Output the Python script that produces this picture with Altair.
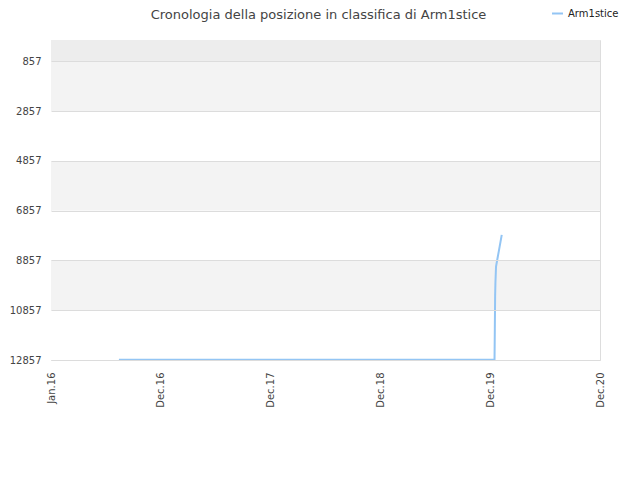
import altair as alt
import pandas as pd

# --- data ---
dates = ["2016-07-14", "2019-12-16", "2019-12-17", "2019-12-18", "2019-12-19",
         "2019-12-21", "2019-12-24", "2019-12-27", "2019-12-30", "2020-01-02",
         "2020-01-05", "2020-01-09"]
ranks = [12850, 12850, 11600, 10300, 9750, 9100, 8900, 8700, 8500, 8300, 8100, 7830]
series_name = "Arm1stice"

y_ticks = [857, 2857, 4857, 6857, 8857, 10857, 12857]
band_lo = [0, 857, 2857, 4857, 6857, 8857, 10857]
band_hi = [857, 2857, 4857, 6857, 8857, 10857, 12857]
band_col = ["#ededed", "#f3f3f3", "#ffffff", "#f3f3f3", "#ffffff", "#f3f3f3", "#ffffff"]

x_ticks = ["2015-12-01", "2016-12-01", "2017-12-01", "2018-12-01", "2019-12-01", "2020-12-01"]
x_labels = ["Jan.16", "Dec.16", "Dec.17", "Dec.18", "Dec.19", "Dec.20"]

line_df = pd.DataFrame({"date": pd.to_datetime(dates), "rank": ranks, "name": series_name})
band_df = pd.DataFrame({"lo": band_lo, "hi": band_hi, "col": band_col})

x_dom = [alt.DateTime(year=2015, month=12, date=1, utc=True),
         alt.DateTime(year=2020, month=12, date=1, utc=True)]
x_vals = [alt.DateTime(year=int(d[:4]), month=int(d[5:7]), date=1, utc=True) for d in x_ticks]

label_expr = "[" + ",".join(f"'{l}'" for l in x_labels) + "][utcyear(datum.value) - 2015]"

xscale = alt.Scale(domain=x_dom, type="utc")
yscale = alt.Scale(domain=[0, 12857], reverse=True, nice=False, zero=False)

y_axis = alt.Axis(values=y_ticks, format="d", ticks=False, domain=False, grid=True,
                  gridColor="#dcdcdc", labelPadding=10, labelFontSize=10, zindex=1,
                  labelFont="DejaVu Sans", labelColor="#444")

bands = alt.Chart(band_df).mark_rect().encode(
    y=alt.Y("lo:Q", scale=yscale, axis=y_axis, title=None),
    y2="hi:Q",
    x=alt.value(0),
    x2=alt.value(549),
    color=alt.Color("col:N", scale=None, legend=None),
)

line = alt.Chart(line_df).mark_line(strokeWidth=2, color="#93c5f4", interpolate="linear").encode(
    x=alt.X("date:T", scale=xscale, title=None,
            axis=alt.Axis(values=x_vals, labelExpr=label_expr, labelAngle=-90,
                          labelAlign="right", labelBaseline="middle", ticks=False,
                          domain=False, grid=False, labelPadding=12, labelFontSize=10,
                          labelFont="DejaVu Sans", labelColor="#444")),
    y=alt.Y("rank:Q", scale=yscale, title=None, axis=y_axis),
    stroke=alt.Stroke("name:N", scale=alt.Scale(range=["#93c5f4"]),
                      legend=alt.Legend(title=None, orient="none", legendX=500, legendY=-33,
                                        symbolType="stroke", symbolStrokeWidth=2, symbolSize=120,
                                        labelFont="DejaVu Sans", labelFontSize=10,
                                        labelColor="#222")),
)

chart = alt.layer(bands, line).properties(
    width=549, height=320,
    padding={"left": 43, "top": 32, "right": 32, "bottom": 100},
    autosize=alt.AutoSizeParams(type="none"),
    title=alt.TitleParams(text="Cronologia della posizione in classifica di Arm1stice",
                          font="DejaVu Sans", fontSize=13, fontWeight="normal",
                          color="#444", anchor="middle", offset=-15, dx=-7),
).configure_view(stroke="#dddddd", strokeWidth=1)

chart.save("out.html", embed_options={"renderer": "svg", "actions": False})
